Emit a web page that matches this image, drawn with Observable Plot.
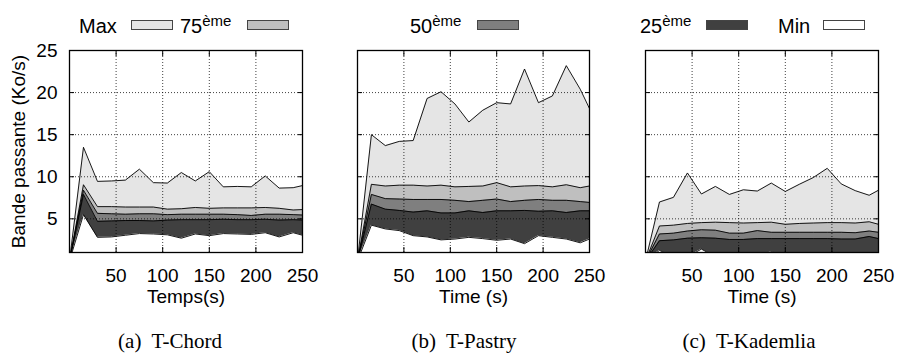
<!DOCTYPE html>
<html><head><meta charset="utf-8">
<script src="https://cdn.jsdelivr.net/npm/d3@7"></script>
<script src="https://cdn.jsdelivr.net/npm/@observablehq/plot@0.6"></script>
<style>
html,body{margin:0;padding:0;background:#fff;}
body{width:899px;height:354px;overflow:hidden;position:relative;font-family:"Liberation Sans",Arial,sans-serif;color:#000;}
.lt{position:absolute;top:16px;font-size:20px;line-height:20px;white-space:nowrap;}
.lt sup{font-size:15px;position:relative;top:-3px;vertical-align:top;line-height:15px;}
.lb{position:absolute;top:20px;width:40px;height:8px;border:1px solid #444;}
.pl{position:absolute;top:40px;}
.cap{position:absolute;top:329px;font-family:"Liberation Serif","Times New Roman",serif;font-size:21px;line-height:24px;white-space:pre;transform:translateX(-50%);}
</style></head>
<body>
<div id="legend"></div>
<div id="p1" class="pl" style="left:0px"></div>
<div id="p2" class="pl" style="left:310px"></div>
<div id="p3" class="pl" style="left:600px"></div>
<div id="caps"></div>
<script>
// Time samples (s)
const times = [0,15,30,45,60,75,90,105,120,135,150,165,180,195,210,225,240,250];
const xTicks = [50,100,150,200,250];
const yTicks = [5,10,15,20,25];
const seriesNames = ["Max","75","50","25","Min"];
const seriesSup = ["","ème","ème","ème",""];
const seriesFill = ["#e5e5e5","#bfbfbf","#7f7f7f","#404040","#ffffff"];

// (a) T-Chord
const chordMax = [0,13.5,9.45,9.5,9.6,10.9,9.3,9.25,10.5,9.5,10.6,8.8,8.85,8.8,10.1,8.65,8.7,8.95];
const chordP75 = [0,9.05,6.45,6.45,6.4,6.4,6.4,6.15,6.2,6.35,6.25,6.3,6.3,6.3,6.35,6.25,6.05,6.1];
const chordP50 = [0,8.4,5.65,5.6,5.55,5.6,5.6,5.5,5.55,5.55,5.55,5.55,5.5,5.4,5.55,5.55,5.5,5.45];
const chordP25 = [0,7.9,4.7,4.75,4.8,4.8,4.75,4.85,4.9,4.9,4.9,4.95,4.9,4.9,4.95,4.85,4.9,4.85];
const chordMin = [0,5.5,2.8,2.85,3.05,3.25,3.2,3.1,2.7,3.2,3.0,3.25,3.2,3.15,3.35,2.85,3.35,3.05];
// (b) T-Pastry
const pastryMax = [0,15.0,13.7,14.2,14.3,19.3,20.1,18.65,16.5,17.9,18.8,18.65,22.8,18.8,19.6,23.2,20.4,18.1];
const pastryP75 = [0,9.1,8.9,9.0,9.0,8.9,9.0,8.8,8.85,8.9,9.3,8.8,8.9,8.95,8.8,9.05,8.7,8.9];
const pastryP50 = [0,7.9,7.4,7.35,7.3,7.3,7.3,7.2,7.05,7.2,7.35,7.05,7.2,7.3,7.2,7.2,7.05,6.95];
const pastryP25 = [0,6.75,6.15,6.0,5.8,5.95,5.7,5.7,5.95,5.75,5.95,5.95,6.0,5.9,5.95,5.75,5.95,5.95];
const pastryMin = [0,4.25,3.8,3.6,3.0,2.85,2.5,2.6,2.8,2.65,2.45,2.6,2.05,3.0,2.8,2.6,2.15,2.6];
// (c) T-Kademlia
const kadMax = [0,7.0,7.55,10.45,7.95,8.85,7.9,8.45,8.3,9.25,8.25,9.1,9.9,11.0,9.15,8.35,7.8,8.4];
const kadP75 = [0,4.15,4.25,4.45,4.55,4.6,4.55,4.5,4.55,4.6,4.35,4.45,4.5,4.55,4.55,4.5,4.65,4.35];
const kadP50 = [0,3.2,3.3,3.55,3.7,3.65,3.3,3.3,3.6,3.4,3.4,3.4,3.4,3.4,3.4,3.35,3.55,3.4];
const kadP25 = [0,2.4,2.5,2.7,2.75,2.7,2.55,2.55,2.65,2.65,2.65,2.65,2.65,2.65,2.6,2.6,2.9,2.65];
const kadMin = [0,1.25,0.5,0.5,1.4,0.5,0.5,0.5,0.5,1.1,0.5,0.5,0.5,0.5,0.5,0.5,0.5,0.5];

const yLabel = "Bande passante (Ko/s)";
const captions = ["(a)  T-Chord","(b)  T-Pastry","(c)  T-Kademlia"];
const xLabels = ["Temps(s)","Time (s)","Time (s)"];

// legend
const legendPos = [[79,131],[180,247],[410,477],[640,706],[778,823]];
const lg = document.getElementById("legend");
seriesNames.forEach((n,k)=>{
  const t = document.createElement("span");
  t.className = "lt"; t.style.left = legendPos[k][0]+"px";
  t.innerHTML = n + (seriesSup[k] ? "<sup>"+seriesSup[k]+"</sup>" : "");
  lg.appendChild(t);
  const b = document.createElement("div");
  b.className = "lb"; b.style.left = legendPos[k][1]+"px"; b.style.background = seriesFill[k];
  lg.appendChild(b);
});
const capX = [170,464,749];
const cp = document.getElementById("caps");
captions.forEach((c,i)=>{
  const d = document.createElement("div");
  d.className = "cap"; d.style.left = capX[i]+"px"; d.textContent = c;
  cp.appendChild(d);
});

function panel(id, arrays, xlabel, showY, width, ml, mr) {
  const rows = times.map((t,i)=>({t, v: arrays.map(a=>a[i])}));
  const marks = [];
  arrays.forEach((a,k)=>{
    marks.push(Plot.areaY(rows, {x:"t", y1:0, y2:d=>d.v[k], fill:seriesFill[k], clip:true}));
  });
  marks.push(Plot.gridX(xTicks.slice(0,4), {stroke:"#000", strokeOpacity:0.75, strokeDasharray:"1,2"}));
  marks.push(Plot.gridY(yTicks.slice(0,4), {stroke:"#000", strokeOpacity:0.75, strokeDasharray:"1,2"}));
  arrays.forEach((a,k)=>{
    marks.push(Plot.lineY(rows, {x:"t", y:d=>d.v[k], stroke:"#000", strokeWidth:0.9, clip:true}));
  });
  // inward ticks
  marks.push(Plot.axisX(xTicks, {anchor:"bottom", tickSize:-5, fill:"none", label:null}));
  marks.push(Plot.axisX(xTicks, {anchor:"top", tickSize:-5, fill:"none", label:null}));
  marks.push(Plot.axisY(yTicks, {anchor:"left", tickSize:-5, fill:"none", label:null}));
  marks.push(Plot.axisY(yTicks, {anchor:"right", tickSize:-5, fill:"none", label:null}));
  // labels
  marks.push(Plot.axisX(xTicks, {anchor:"bottom", tickSize:0, tickPadding:16, label:xlabel, labelAnchor:"center", labelArrow:"none", labelOffset:50}));
  if (showY) marks.push(Plot.axisY(yTicks, {anchor:"left", tickSize:0, tickPadding:12, label:yLabel, labelAnchor:"center", labelArrow:"none", labelOffset:58}));
  marks.push(Plot.frame({stroke:"#000", strokeWidth:1.3}));
  const p = Plot.plot({
    width, height:274, marginLeft:ml, marginRight:mr, marginTop:10, marginBottom:62,
    x:{domain:[0,250], axis:null},
    y:{domain:[1,25], axis:null},
    style:{fontFamily:"'Liberation Sans', Arial, sans-serif", fontSize:"19px", background:"transparent", overflow:"visible"},
    marks
  });
  document.getElementById(id).appendChild(p);
}
panel("p1", [chordMax,chordP75,chordP50,chordP25,chordMin], xLabels[0], true, 310, 69, 8);
panel("p2", [pastryMax,pastryP75,pastryP50,pastryP25,pastryMin], xLabels[1], false, 290, 47, 11);
panel("p3", [kadMax,kadP75,kadP50,kadP25,kadMin], xLabels[2], false, 299, 45, 21);
</script>
</body></html>
